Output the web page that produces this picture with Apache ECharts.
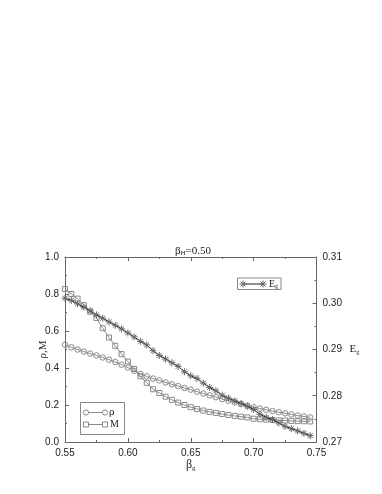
<!DOCTYPE html>
<html>
<head>
<meta charset="utf-8">
<script src="https://cdn.jsdelivr.net/npm/echarts@6/dist/echarts.min.js"></script>
<style>html,body{margin:0;padding:0;background:#fff}#c{width:382px;height:494px}</style>
</head>
<body>
<div id="c"></div>
<script>
// beta_g values (x axis)
const betaG = [0.550,0.555,0.560,0.565,0.570,0.575,0.580,0.585,0.590,0.595,
               0.600,0.605,0.610,0.615,0.620,0.625,0.630,0.635,0.640,0.645,
               0.650,0.655,0.660,0.665,0.670,0.675,0.680,0.685,0.690,0.695,
               0.700,0.705,0.710,0.715,0.720,0.725,0.730,0.735,0.740,0.745];
// rho (left axis)
const rho = [0.526,0.512,0.500,0.489,0.478,0.468,0.457,0.445,0.432,0.418,
             0.402,0.385,0.368,0.355,0.343,0.333,0.322,0.312,0.302,0.292,
             0.283,0.272,0.262,0.252,0.242,0.232,0.223,0.214,0.205,0.196,
             0.188,0.181,0.174,0.167,0.161,0.155,0.149,0.143,0.138,0.133];
// M (left axis)
const M = [0.827,0.800,0.775,0.740,0.705,0.670,0.615,0.565,0.520,0.475,
           0.435,0.395,0.355,0.320,0.285,0.265,0.245,0.228,0.213,0.200,
           0.188,0.178,0.170,0.163,0.157,0.151,0.146,0.141,0.137,0.133,
           0.126,0.123,0.121,0.119,0.117,0.116,0.114,0.113,0.112,0.111];
// E_g (right axis)
const Eg = [0.30110,0.30060,0.29987,0.29915,0.29836,0.29749,0.29676,0.29597,0.29524,0.29445,
            0.29358,0.29271,0.29177,0.29098,0.28975,0.28873,0.28794,0.28714,0.28635,0.28519,
            0.28432,0.28374,0.28273,0.28179,0.28107,0.28013,0.27948,0.27890,0.27832,0.27774,
            0.27702,0.27600,0.27535,0.27485,0.27412,0.27340,0.27289,0.27239,0.27188,0.27137];

const xTicks = {min:0.55, max:0.75, interval:0.05};
const yLeftTicks = {min:0, max:1.0, interval:0.2};
const yRightTicks = {min:0.27, max:0.31, interval:0.01};

const serif = '"Liberation Serif","Times New Roman",serif';
const sans = '"Liberation Sans",Arial,Helvetica,sans-serif';
const axisCol = '#666';
const gray = '#8a8a8a';
const starCol = '#666';
const asterisk = 'path://M5,0 L5,10 M0,5 L10,5 M1.5,1.5 L8.5,8.5 M8.5,1.5 L1.5,8.5';

function pair(xs, ys){ return xs.map((x,i)=>[x, ys[i]]); }

function starGraphic(cx, cy){
  const r = 3.5, d = 2.5;
  const st = {stroke:starCol, lineWidth:1};
  return [
    {type:'line', shape:{x1:cx, y1:cy-r, x2:cx, y2:cy+r}, style:st, z:12},
    {type:'line', shape:{x1:cx-r, y1:cy, x2:cx+r, y2:cy}, style:st, z:12},
    {type:'line', shape:{x1:cx-d, y1:cy-d, x2:cx+d, y2:cy+d}, style:st, z:12},
    {type:'line', shape:{x1:cx+d, y1:cy-d, x2:cx-d, y2:cy+d}, style:st, z:12}
  ];
}

const chart = echarts.init(document.getElementById('c'), null, {renderer:'canvas'});

const axisCommon = {
  axisLine:{show:true, lineStyle:{color:axisCol, width:1}},
  axisTick:{show:true, inside:true, length:4, lineStyle:{color:axisCol}},
  minorTick:{show:true, splitNumber:2, length:2, lineStyle:{color:axisCol}},
  splitLine:{show:false},
  axisLabel:{color:'#222', fontFamily:sans, fontSize:10}
};

const option = {
  animation:false,
  backgroundColor:'#fff',
  title:{
    text:'{a|β}{s|H}{a|=0.50}',
    left:188, top:240, textAlign:'center',
    textStyle:{fontWeight:'normal', rich:{
      a:{fontFamily:serif, fontSize:11, color:'#222', fontWeight:'normal'},
      s:{fontFamily:serif, fontSize:7, color:'#222', fontWeight:'normal', padding:[5,0,0,0]}
    }}
  },
  grid:{left:65, right:65.5, top:257, bottom:52, containLabel:false},
  xAxis:[
    Object.assign({}, axisCommon, {
      type:'value', position:'bottom', min:xTicks.min, max:xTicks.max, interval:xTicks.interval,
      axisLabel:Object.assign({}, axisCommon.axisLabel, {margin:6, formatter:v=>v.toFixed(2)}),
      name:'{b|β}{s|g}', nameLocation:'middle', nameGap:13,
      nameTextStyle:{rich:{
        b:{fontFamily:serif, fontSize:12, color:'#222'},
        s:{fontFamily:serif, fontSize:7, color:'#222', padding:[6,0,0,0]}
      }}
    }),
    Object.assign({}, axisCommon, {
      type:'value', position:'top', min:xTicks.min, max:xTicks.max, interval:xTicks.interval,
      axisLabel:{show:false}
    })
  ],
  yAxis:[
    Object.assign({}, axisCommon, {
      type:'value', position:'left', min:yLeftTicks.min, max:yLeftTicks.max, interval:yLeftTicks.interval,
      axisLabel:Object.assign({}, axisCommon.axisLabel, {margin:6, formatter:v=>v.toFixed(1)}),
      name:'ρ,M', nameLocation:'middle', nameGap:16, nameRotate:90, nameMoveOverlap:false,
      nameTextStyle:{fontFamily:serif, fontSize:11, color:'#222'}
    }),
    Object.assign({}, axisCommon, {
      type:'value', position:'right', min:yRightTicks.min, max:yRightTicks.max, interval:yRightTicks.interval,
      axisLabel:Object.assign({}, axisCommon.axisLabel, {margin:6, formatter:v=>v.toFixed(2)}),
      name:'{b|E}{s|g}', nameLocation:'middle', nameGap:33, nameRotate:0,
      nameTextStyle:{align:'left', rich:{
        b:{fontFamily:serif, fontSize:11, color:'#222'},
        s:{fontFamily:serif, fontSize:6, color:'#222', padding:[6,0,0,0]}
      }}
    })
  ],
  series:[
    {
      name:'ρ', type:'line', xAxisIndex:0, yAxisIndex:0, data:pair(betaG, rho),
      symbol:'circle', symbolSize:5.5, showAllSymbol:true,
      lineStyle:{color:gray, width:1},
      itemStyle:{color:'rgba(255,255,255,0)', borderColor:gray, borderWidth:1}, z:2
    },
    {
      name:'M', type:'line', xAxisIndex:0, yAxisIndex:0, data:pair(betaG, M),
      symbol:'rect', symbolSize:5, showAllSymbol:true,
      lineStyle:{color:gray, width:1},
      itemStyle:{color:'rgba(255,255,255,0)', borderColor:gray, borderWidth:1}, z:2
    },
    {
      name:'E_g', type:'line', xAxisIndex:0, yAxisIndex:1, data:pair(betaG, Eg),
      symbol:asterisk, symbolSize:7, showAllSymbol:true,
      lineStyle:{color:'#222', width:1},
      itemStyle:{color:'none', borderColor:starCol, borderWidth:1}, z:3
    }
  ],
  graphic:[
    // lower-left legend (rho, M)
    {type:'rect', shape:{x:80.5, y:402.5, width:44, height:32}, style:{fill:'#fff', stroke:'#888', lineWidth:1}, z:10},
    {type:'line', shape:{x1:86, y1:412.5, x2:105, y2:412.5}, style:{stroke:gray, lineWidth:1}, z:11},
    {type:'circle', shape:{cx:86, cy:412.5, r:2.6}, style:{fill:'#fff', stroke:gray, lineWidth:1}, z:12},
    {type:'circle', shape:{cx:105, cy:412.5, r:2.6}, style:{fill:'#fff', stroke:gray, lineWidth:1}, z:12},
    {type:'text', x:109, y:412.5, style:{text:'ρ', font:'11px '+serif, fill:'#222', textVerticalAlign:'middle'}, z:12},
    {type:'line', shape:{x1:86, y1:424.5, x2:105, y2:424.5}, style:{stroke:gray, lineWidth:1}, z:11},
    {type:'rect', shape:{x:83.5, y:422, width:5, height:5}, style:{fill:'#fff', stroke:gray, lineWidth:1}, z:12},
    {type:'rect', shape:{x:102.5, y:422, width:5, height:5}, style:{fill:'#fff', stroke:gray, lineWidth:1}, z:12},
    {type:'text', x:110, y:424.5, style:{text:'M', font:'10px '+serif, fill:'#222', textVerticalAlign:'middle'}, z:12},
    // upper-right legend (E_g)
    {type:'rect', shape:{x:237.5, y:278, width:43.5, height:11.5}, style:{fill:'#fff', stroke:'#888', lineWidth:1}, z:10},
    {type:'line', shape:{x1:243, y1:284, x2:263, y2:284}, style:{stroke:'#222', lineWidth:1}, z:11}
  ].concat(starGraphic(243, 284), starGraphic(263, 284), [
    {type:'text', x:269, y:284, style:{rich:{b:{font:'10px '+serif, fill:'#222'}, s:{font:'6px '+serif, fill:'#222', padding:[5,0,0,0]}}, text:'{b|E}{s|g}', textVerticalAlign:'middle'}, z:12}
  ])
};
chart.setOption(option);
</script>
</body>
</html>
